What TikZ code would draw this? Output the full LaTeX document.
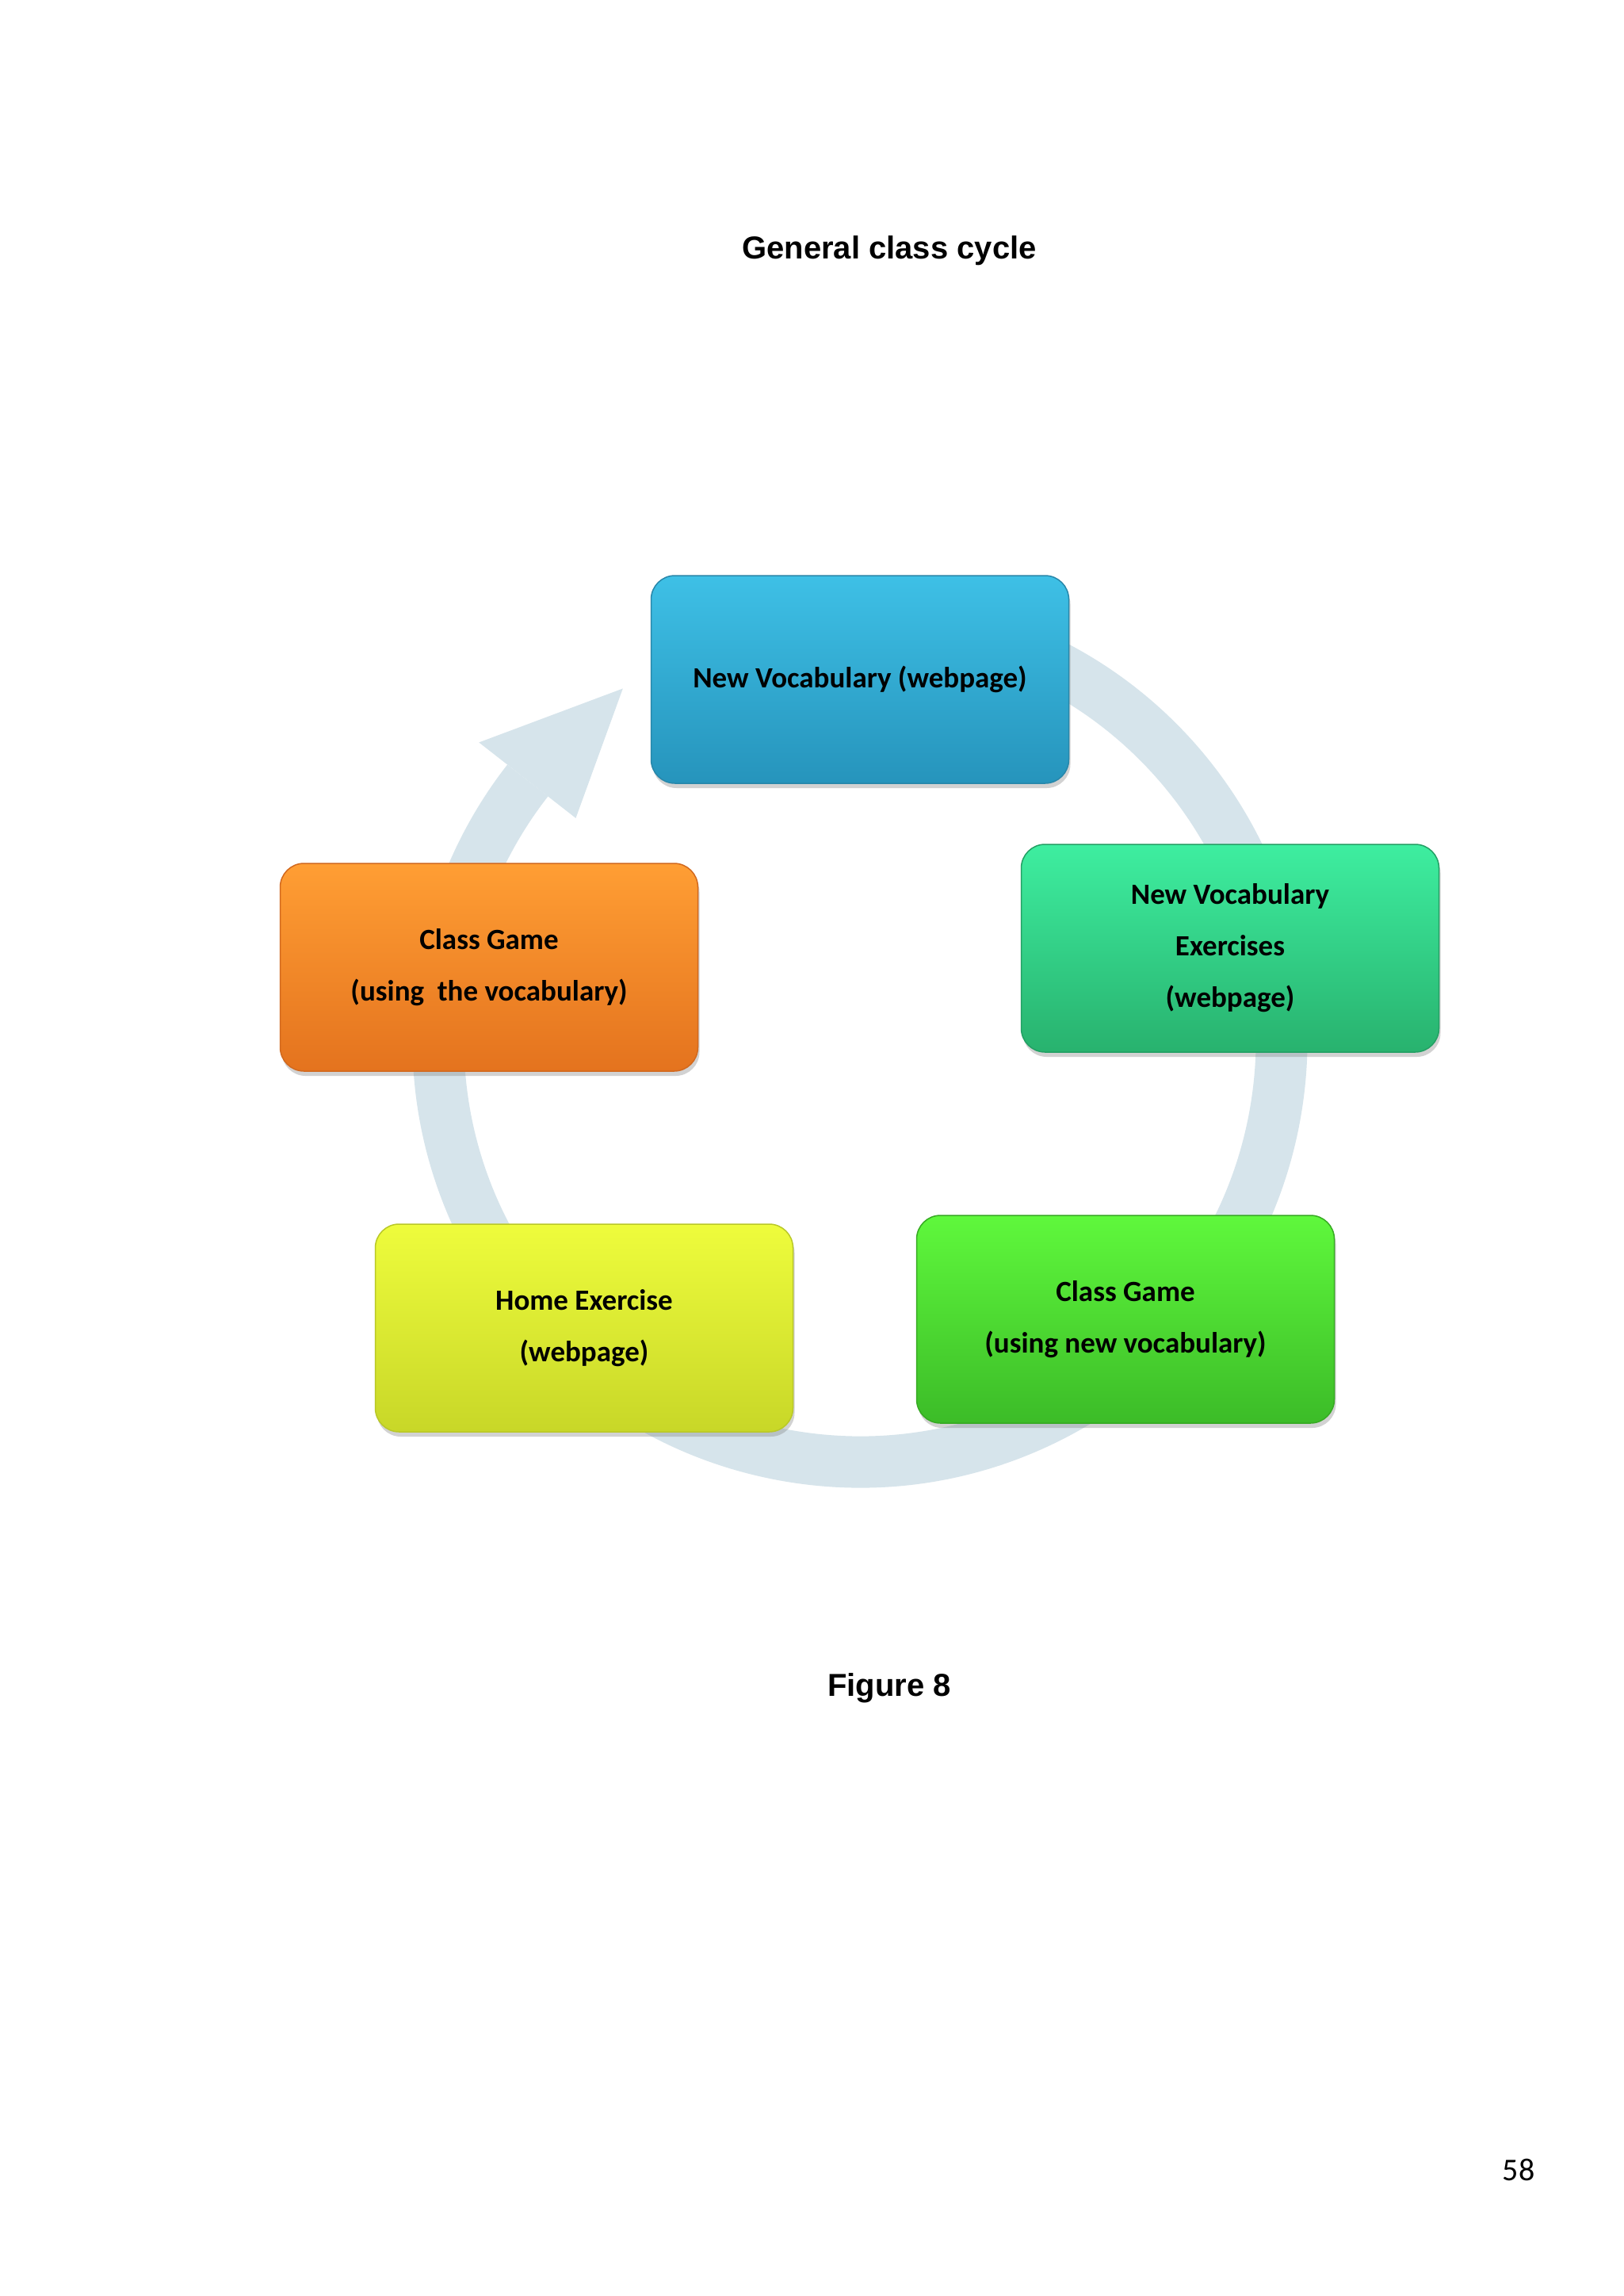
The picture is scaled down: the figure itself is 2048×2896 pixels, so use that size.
\documentclass[tikz,border=0pt]{standalone}
\usepackage{fontspec}
\setmainfont{Carlito}
\newfontfamily\arialf{Liberation Sans}
\usetikzlibrary{shadows,calc}
\definecolor{ringc}{RGB}{214,228,235}
\begin{document}
\begin{tikzpicture}[x=1pt,y=1pt,
  cbox/.style={rectangle, rounded corners=30pt, minimum width=527pt, minimum height=262pt,
    align=center, font=\bfseries\fontsize{37}{65}\selectfont, line width=1.5pt,
    drop shadow={shadow xshift=2pt, shadow yshift=-6pt, opacity=0.35}},
  ttl/.style={font=\arialf\bfseries\fontsize{40}{48}\selectfont}]
\useasboundingbox (0,0) rectangle (2048,-2896);
\fill[white] (0,0) rectangle (2048,-2896);
\coordinate (c) at (1085,-1312);
\draw[ringc, line width=65pt] (c) ++(80:532) arc[start angle=80, end angle=-218, radius=532];
\fill[ringc] ($(c)+(142:455)$) -- ($(c)+(142:610)$) -- ($(c)+(124:535)$) -- cycle;
\node[ttl] (title) at (1122,-316) {General class cycle};
\node[ttl] (fig) at (1122,-2129) {Figure 8};
\node[font=\fontsize{40}{48}\selectfont] (page) at (1916,-2737) {58};
\node[cbox, draw={rgb,255:red,40;green,135;blue,170}, top color={rgb,255:red,62;green,192;blue,230}, bottom color={rgb,255:red,38;green,148;blue,188}] (b1) at (1085,-857) {New Vocabulary (webpage)};
\node[cbox, draw={rgb,255:red,35;green,160;blue,100}, top color={rgb,255:red,62;green,238;blue,160}, bottom color={rgb,255:red,40;green,178;blue,110}] (b2) at (1552,-1196) {New Vocabulary\\Exercises\\(webpage)};
\node[cbox, draw={rgb,255:red,55;green,170;blue,35}, top color={rgb,255:red,95;green,248;blue,60}, bottom color={rgb,255:red,60;green,188;blue,40}] (b3) at (1420,-1664) {Class Game\\(using new vocabulary)};
\node[cbox, draw={rgb,255:red,185;green,200;blue,40}, top color={rgb,255:red,238;green,252;blue,60}, bottom color={rgb,255:red,200;green,215;blue,40}] (b4) at (737,-1675) {Home Exercise\\(webpage)};
\node[cbox, draw={rgb,255:red,210;green,105;blue,30}, top color={rgb,255:red,255;green,158;blue,52}, bottom color={rgb,255:red,228;green,115;blue,30}] (b5) at (617,-1220) {Class Game\\(using\ \ the vocabulary)};
\end{tikzpicture}
\end{document}
